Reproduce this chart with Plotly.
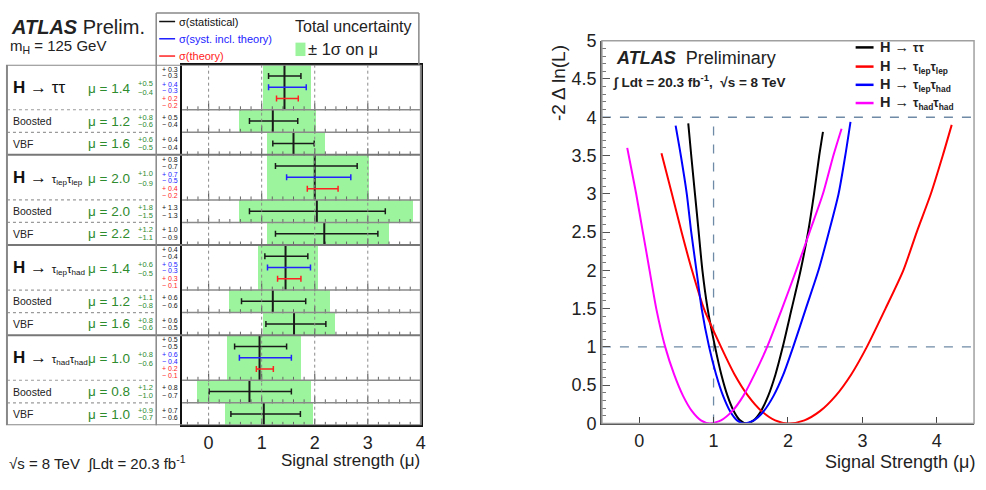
import plotly.graph_objects as go

W, H = 986, 490
FONT = "Liberation Sans, Arial, sans-serif"

# ======================= LEFT PANEL DATA =======================
channel_labels = [
    "<b>H</b> → ττ",
    "<b>H</b> → <span style='font-size:11.5px'>τ<sub>lep</sub>τ<sub>lep</sub></span>",
    "<b>H</b> → <span style='font-size:11.5px'>τ<sub>lep</sub>τ<sub>had</sub></span>",
    "<b>H</b> → <span style='font-size:11.5px'>τ<sub>had</sub>τ<sub>had</sub></span>",
]
sub_labels = ["Boosted", "VBF"]

# 12 rows: per channel -> combined, Boosted, VBF
mu_val  = [1.43, 1.21, 1.60, 2.00, 2.04, 2.18, 1.45, 1.21, 1.61, 0.96, 0.77, 1.04]
tot_up  = [0.51, 0.82, 0.59, 1.02, 1.81, 1.23, 0.62, 1.08, 0.78, 0.78, 1.16, 0.92]
tot_dn  = [0.41, 0.63, 0.49, 0.90, 1.46, 1.08, 0.51, 0.83, 0.59, 0.61, 0.98, 0.73]
stat_up = [0.31, 0.47, 0.39, 0.80, 1.29, 1.01, 0.42, 0.62, 0.60, 0.51, 0.79, 0.69]
stat_dn = [0.30, 0.44, 0.39, 0.74, 1.27, 0.92, 0.39, 0.59, 0.53, 0.47, 0.76, 0.62]
# only for the four combined rows
syst_up = [0.41, 0.68, 0.47, 0.60]
syst_dn = [0.30, 0.53, 0.34, 0.38]
theo_up = [0.26, 0.44, 0.29, 0.26]
theo_dn = [0.15, 0.14, 0.15, 0.06]

mu_text      = ["1.4", "1.2", "1.6", "2.0", "2.0", "2.2", "1.4", "1.2", "1.6", "1.0", "0.8", "1.0"]
tot_up_text  = ["+0.5", "+0.8", "+0.6", "+1.0", "+1.8", "+1.2", "+0.6", "+1.1", "+0.8", "+0.8", "+1.2", "+0.9"]
tot_dn_text  = ["-0.4", "-0.6", "-0.5", "-0.9", "-1.5", "-1.1", "-0.5", "-0.8", "-0.6", "-0.6", "-1.0", "-0.7"]
stat_up_text = ["0.3", "0.5", "0.4", "0.8", "1.3", "1.0", "0.4", "0.6", "0.6", "0.5", "0.8", "0.7"]
stat_dn_text = ["0.3", "0.4", "0.4", "0.7", "1.3", "0.9", "0.4", "0.6", "0.5", "0.5", "0.7", "0.6"]
syst_up_text = ["0.4", "0.7", "0.5", "0.6"]
syst_dn_text = ["0.3", "0.5", "0.3", "0.4"]
theo_up_text = ["0.2", "0.4", "0.3", "0.2"]
theo_dn_text = ["0.2", "0.2", "0.1", "0.1"]

left_ticks = [0, 1, 2, 3, 4]
left_grid = [0, 1, 2, 3]
left_minor = [-0.4, -0.2, 0.2, 0.4, 0.6, 0.8, 1.2, 1.4, 1.6, 1.8, 2.2, 2.4, 2.6, 2.8, 3.2, 3.4, 3.6, 3.8]

# ======================= RIGHT PANEL DATA =======================
curve_labels = [
    "<b>H → </b><span style='font-size:12px'><b>ττ</b></span>",
    "<b>H → </b><span style='font-size:12px'><b>τ<sub>lep</sub>τ<sub>lep</sub></b></span>",
    "<b>H → </b><span style='font-size:12px'><b>τ<sub>lep</sub>τ<sub>had</sub></b></span>",
    "<b>H → </b><span style='font-size:12px'><b>τ<sub>had</sub>τ<sub>had</sub></b></span>",
]
curve_colors = ["#000000", "#ff0000", "#0000ff", "#ff00ff"]

mu_tautau  = [0.66, 0.70, 0.75, 0.80, 0.85, 0.92, 1.02, 1.104, 1.188, 1.272, 1.356, 1.44,
              1.538, 1.636, 1.734, 1.832, 1.93, 2.05, 2.17, 2.27, 2.35, 2.42, 2.47]
nll_tautau = [3.92, 3.50, 3.00, 2.50, 2.00, 1.50, 1.00, 0.64, 0.36, 0.16, 0.04, 0.00,
              0.04, 0.16, 0.36, 0.64, 1.00, 1.50, 2.00, 2.50, 3.00, 3.50, 3.81]

mu_lelep  = [0.30, 0.44, 0.57, 0.71, 0.87, 1.10, 1.282, 1.464, 1.646, 1.828, 2.01,
             2.22, 2.43, 2.64, 2.85, 3.06, 3.31, 3.55, 3.73, 3.92, 4.08, 4.20]
nll_lelep = [3.53, 3.00, 2.50, 2.00, 1.50, 1.00, 0.64, 0.36, 0.16, 0.04, 0.00,
             0.04, 0.16, 0.36, 0.64, 1.00, 1.50, 2.00, 2.50, 3.00, 3.50, 3.90]

mu_lephad  = [0.49, 0.56, 0.64, 0.70, 0.77, 0.84, 0.94, 1.034, 1.128, 1.222, 1.316, 1.41,
              1.542, 1.674, 1.806, 1.938, 2.07, 2.24, 2.41, 2.55, 2.68, 2.77, 2.84]
nll_lephad = [3.89, 3.50, 3.00, 2.50, 2.00, 1.50, 1.00, 0.64, 0.36, 0.16, 0.04, 0.00,
              0.04, 0.16, 0.36, 0.64, 1.00, 1.50, 2.00, 2.50, 3.00, 3.50, 3.94]

mu_hadhad  = [-0.16, -0.10, -0.04, 0.05, 0.14, 0.23, 0.35, 0.47, 0.59, 0.71, 0.83, 0.95,
              1.10, 1.25, 1.40, 1.55, 1.72, 1.92, 2.11, 2.29, 2.47, 2.61, 2.72]
nll_hadhad = [3.60, 3.30, 3.00, 2.50, 2.00, 1.50, 1.00, 0.64, 0.36, 0.16, 0.04, 0.00,
              0.04, 0.16, 0.36, 0.64, 1.00, 1.50, 2.00, 2.50, 3.00, 3.50, 3.85]

curves_mu = [mu_tautau, mu_lelep, mu_lephad, mu_hadhad]
curves_nll = [nll_tautau, nll_lelep, nll_lephad, nll_hadhad]

ref_levels = [1, 4]
sm_mu = 1
right_yticks = [0, 0.5, 1, 1.5, 2, 2.5, 3, 3.5, 4, 4.5, 5]
right_xticks = [0, 1, 2, 3, 4]


# ======================= helpers =======================
def px(x):
    return x / W


def py(y):
    return 1 - y / H


GREEN_TXT = "#2e8b2e"
TICK_COL = "#666666"

# row geometry (in left-panel y units, 16 units total)
row_top, row_h = [], []
for i in range(12):
    g, k = divmod(i, 3)
    row_top.append(4 * g + (0 if k == 0 else k + 1))
    row_h.append(2 if k == 0 else 1)
row_mid = [t + h / 2 for t, h in zip(row_top, row_h)]

fig = go.Figure()

# total-uncertainty boxes
fig.add_trace(go.Bar(
    orientation="h", y=row_mid,
    x=[u + d for u, d in zip(tot_up, tot_dn)],
    base=[m - d for m, d in zip(mu_val, tot_dn)],
    width=row_h, marker=dict(color="#9cf59c", line=dict(width=0)),
    xaxis="x", yaxis="y", hoverinfo="skip",
))

# small axis ticks at the bottom of every row (ROOT style)
tkx, tky, tkx2, tky2 = [], [], [], []
for t, h in zip(row_top, row_h):
    for v in left_minor:
        tkx.append(v)
        tky.append(t + h - 0.06)
    for v in left_grid:
        tkx2.append(v)
        tky2.append(t + h - 0.12)
fig.add_trace(go.Scatter(x=tkx, y=tky, mode="markers",
                         marker=dict(symbol="line-ns-open", size=3, color=TICK_COL,
                                     line=dict(color=TICK_COL, width=1)),
                         xaxis="x", yaxis="y", hoverinfo="skip"))
fig.add_trace(go.Scatter(x=tkx2, y=tky2, mode="markers",
                         marker=dict(symbol="line-ns-open", size=5.5, color=TICK_COL,
                                     line=dict(color=TICK_COL, width=1.2)),
                         xaxis="x", yaxis="y", hoverinfo="skip"))

# central value lines
cx, cy = [], []
for m, t, h in zip(mu_val, row_top, row_h):
    cx += [m, m, None]
    cy += [t, t + h, None]
fig.add_trace(go.Scatter(x=cx, y=cy, mode="lines", line=dict(color="#1a1a1a", width=2),
                         xaxis="x", yaxis="y", hoverinfo="skip"))

# stat error bars
stat_y = [t + 0.5 for t in row_top]
fig.add_trace(go.Scatter(
    x=mu_val, y=stat_y, mode="markers", marker=dict(size=1, opacity=0),
    error_x=dict(type="data", symmetric=False, array=stat_up, arrayminus=stat_dn,
                 color="#1a1a1a", thickness=1.5, width=3),
    xaxis="x", yaxis="y", hoverinfo="skip"))

main_idx = [0, 3, 6, 9]
fig.add_trace(go.Scatter(
    x=[mu_val[i] for i in main_idx], y=[row_top[i] + 1.0 for i in main_idx],
    mode="markers", marker=dict(size=1, opacity=0),
    error_x=dict(type="data", symmetric=False, array=syst_up, arrayminus=syst_dn,
                 color="#2222ff", thickness=1.5, width=3),
    xaxis="x", yaxis="y", hoverinfo="skip"))
fig.add_trace(go.Scatter(
    x=[mu_val[i] for i in main_idx], y=[row_top[i] + 1.5 for i in main_idx],
    mode="markers", marker=dict(size=1, opacity=0),
    error_x=dict(type="data", symmetric=False, array=theo_up, arrayminus=theo_dn,
                 color="#ff2222", thickness=1.5, width=3),
    xaxis="x", yaxis="y", hoverinfo="skip"))

# ======================= RIGHT PANEL TRACES =======================
for mus, nlls, col in zip(curves_mu, curves_nll, curve_colors):
    fig.add_trace(go.Scatter(x=mus, y=nlls, mode="lines",
                             line=dict(color=col, width=2, shape="spline", smoothing=0.7),
                             xaxis="x2", yaxis="y2", hoverinfo="skip"))

shapes = []
ann = []

# ---------- left panel decorations ----------
for v in left_grid:
    shapes.append(dict(type="line", xref="x", yref="y", x0=v, x1=v, y0=0, y1=16,
                       line=dict(color="#8a8a8a", width=1, dash="dot"), layer="above"))
for i in range(1, 12):
    yv = row_top[i]
    if i % 3 == 0:
        shapes.append(dict(type="line", xref="paper", yref="y", x0=px(7), x1=px(423), y0=yv, y1=yv,
                           line=dict(color="#777777", width=2), layer="above"))
    else:
        shapes.append(dict(type="line", xref="paper", yref="y", x0=px(7), x1=px(157), y0=yv, y1=yv,
                           line=dict(color="#9a9a9a", width=1.2, dash="dot"), layer="above"))
        shapes.append(dict(type="line", xref="x", yref="y", x0=-0.5, x1=4.0, y0=yv, y1=yv,
                           line=dict(color="#8a8a8a", width=1.5), layer="above"))
shapes.append(dict(type="rect", xref="paper", yref="y", x0=px(7), x1=px(423), y0=0, y1=16,
                   line=dict(color="#888888", width=2), layer="above"))
shapes.append(dict(type="line", xref="paper", yref="paper", x0=px(157), x1=px(157), y0=py(3), y1=py(433),
                   line=dict(color="#888888", width=1.5)))
shapes.append(dict(type="line", xref="paper", yref="paper", x0=px(157), x1=px(421), y0=py(3), y1=py(3),
                   line=dict(color="#888888", width=1.5)))
shapes.append(dict(type="line", xref="paper", yref="paper", x0=px(421), x1=px(421), y0=py(3), y1=py(57),
                   line=dict(color="#888888", width=1.5)))
leg_cols = ["#111111", "#2222ff", "#ff2222"]
leg_txt = ["σ(statistical)", "σ(syst. incl. theory)", "σ(theory)"]
leg_y = [12, 30, 48]
for c, t, yy in zip(leg_cols, leg_txt, leg_y):
    shapes.append(dict(type="line", xref="paper", yref="paper", x0=px(160), x1=px(176), y0=py(yy), y1=py(yy),
                       line=dict(color=c, width=1.5)))
    ann.append(dict(x=px(178), y=py(yy), xref="paper", yref="paper", text=t, showarrow=False,
                    xanchor="left", yanchor="middle", font=dict(size=11, color=c, family=FONT)))
shapes.append(dict(type="rect", xref="paper", yref="paper", x0=px(297), x1=px(307), y0=py(48), y1=py(34),
                   fillcolor="#9cf59c", line=dict(width=0)))
ann.append(dict(x=px(294), y=py(17), xref="paper", yref="paper", text="Total uncertainty", showarrow=False,
                xanchor="left", yanchor="middle", font=dict(size=16, color="#222", family=FONT)))
ann.append(dict(x=px(308), y=py(41), xref="paper", yref="paper", text="± 1σ on μ", showarrow=False,
                xanchor="left", yanchor="middle", font=dict(size=16.5, color="#222", family=FONT)))

ann.append(dict(x=px(9), y=py(18), xref="paper", yref="paper",
                text="<b><i>ATLAS</i></b> Prelim.", showarrow=False,
                xanchor="left", yanchor="middle", font=dict(size=20, color="#222", family=FONT)))
ann.append(dict(x=px(8), y=py(38), xref="paper", yref="paper",
                text="m<sub>H</sub> = 125 GeV", showarrow=False,
                xanchor="left", yanchor="middle", font=dict(size=15, color="#222", family=FONT)))
ann.append(dict(x=px(7), y=py(472), xref="paper", yref="paper",
                text="√s = 8 TeV  ∫Ldt = 20.3 fb<sup>-1</sup>", showarrow=False,
                xanchor="left", yanchor="middle", font=dict(size=15, color="#222", family=FONT)))
ann.append(dict(x=px(424), y=py(470), xref="paper", yref="paper",
                text="Signal strength (μ)", showarrow=False,
                xanchor="right", yanchor="middle", font=dict(size=17, color="#222", family=FONT)))

for i in range(12):
    g, k = divmod(i, 3)
    t, h = row_top[i], row_h[i]
    if k == 0:
        ann.append(dict(x=px(11), y=t + 1.0, xref="paper", yref="y", text=channel_labels[g], showarrow=False,
                        xanchor="left", yanchor="middle", font=dict(size=17, color="#111", family=FONT)))
    else:
        ann.append(dict(x=px(11), y=t + 0.5, xref="paper", yref="y", text=sub_labels[k - 1], showarrow=False,
                        xanchor="left", yanchor="middle", font=dict(size=10.5, color="#222", family=FONT)))
    cmid = t + (1.05 if k == 0 else 0.5)
    ann.append(dict(x=px(133), y=cmid, xref="paper", yref="y", text="μ = " + mu_text[i], showarrow=False,
                    xanchor="right", yanchor="middle", font=dict(size=13.5, color=GREEN_TXT, family=FONT)))
    dsup = 0.2 if k == 0 else 0.17
    ann.append(dict(x=px(137), y=cmid - dsup, xref="paper", yref="y", text=tot_up_text[i], showarrow=False,
                    xanchor="left", yanchor="middle", font=dict(size=7.5, color=GREEN_TXT, family=FONT)))
    ann.append(dict(x=px(137), y=cmid + dsup, xref="paper", yref="y", text=tot_dn_text[i].replace("-", "−"),
                    showarrow=False, xanchor="left", yanchor="middle",
                    font=dict(size=7.5, color=GREEN_TXT, family=FONT)))
    if k == 0:
        gi = main_idx.index(i)
        items = [("+ " + stat_up_text[i], "#111"), ("− " + stat_dn_text[i], "#111"),
                 ("+ " + syst_up_text[gi], "#2222ff"), ("− " + syst_dn_text[gi], "#2222ff"),
                 ("+ " + theo_up_text[gi], "#ff2222"), ("− " + theo_dn_text[gi], "#ff2222")]
        offs = [0.2, 0.5, 0.86, 1.15, 1.5, 1.8]
    else:
        items = [("+ " + stat_up_text[i], "#111"), ("− " + stat_dn_text[i], "#111")]
        offs = [0.33, 0.67]
    for (tx, c), o in zip(items, offs):
        ann.append(dict(x=px(161), y=t + o, xref="paper", yref="y", text=tx, showarrow=False,
                        xanchor="left", yanchor="middle", font=dict(size=7, color=c, family=FONT)))

# ---------- right panel decorations ----------
for lv in ref_levels:
    shapes.append(dict(type="line", xref="x2", yref="y2", x0=-0.5, x1=4.5, y0=lv, y1=lv,
                       line=dict(color="#6f8aa6", width=1.3, dash="dash"), layer="below"))
shapes.append(dict(type="line", xref="x2", yref="y2", x0=sm_mu, x1=sm_mu, y0=0, y1=max(ref_levels),
                   line=dict(color="#6f8aa6", width=1.3, dash="dash"), layer="below"))
shapes.append(dict(type="rect", xref="x2 domain", yref="y2 domain", x0=0, x1=1, y0=0, y1=1,
                   line=dict(color="#a0a0a0", width=1.5), layer="above"))

ann.append(dict(x=px(617), y=py(50), xref="paper", yref="paper",
                text="<b><i>ATLAS</i></b>  Preliminary", showarrow=False,
                xanchor="left", yanchor="middle", font=dict(size=18, color="#222", family=FONT)))
ann.append(dict(x=px(614), y=py(74), xref="paper", yref="paper",
                text="<b>∫ Ldt = 20.3 fb<sup>-1</sup>,  √s = 8 TeV</b>", showarrow=False,
                xanchor="left", yanchor="middle", font=dict(size=13.5, color="#222", family=FONT)))
leg2_y = [39, 59, 78, 97]
for lab, col, yy in zip(curve_labels, curve_colors, leg2_y):
    shapes.append(dict(type="line", xref="paper", yref="paper", x0=px(860), x1=px(878), y0=py(yy), y1=py(yy),
                       line=dict(color=col, width=2.5)))
    ann.append(dict(x=px(882), y=py(yy), xref="paper", yref="paper", text=lab, showarrow=False,
                    xanchor="left", yanchor="middle", font=dict(size=14.5, color="#222", family=FONT)))
ann.append(dict(x=px(562), y=py(76), xref="paper", yref="paper", text="-2 Δ ln(L)", textangle=-90,
                showarrow=False, xanchor="center", yanchor="middle",
                font=dict(size=19, color="#222", family=FONT)))
ann.append(dict(x=px(982), y=py(471), xref="paper", yref="paper", text="Signal Strength (μ)",
                showarrow=False, xanchor="right", yanchor="middle",
                font=dict(size=18, color="#222", family=FONT)))

fig.update_layout(
    width=W, height=H, margin=dict(l=0, r=0, t=0, b=0),
    paper_bgcolor="white", plot_bgcolor="white", showlegend=False,
    shapes=shapes, annotations=ann, bargap=0,
    xaxis=dict(domain=[px(183), px(423)], range=[-0.5, 4.0], tickvals=left_ticks,
               ticks="", showgrid=False, zeroline=False,
               showline=True, mirror=True, linecolor="#111", linewidth=2,
               tickfont=dict(size=18, color="#222", family=FONT), anchor="y"),
    yaxis=dict(domain=[py(433), py(57)], range=[16, 0], showticklabels=False, ticks="",
               showgrid=False, zeroline=False, showline=True, mirror=True,
               linecolor="#111", linewidth=2, anchor="x"),
    xaxis2=dict(domain=[px(605), px(979)], range=[-0.5, 4.5], tickvals=right_xticks,
                ticks="inside", ticklen=6, tickcolor="#444", showgrid=False, zeroline=False,
                showline=True, linecolor="#444", linewidth=2, anchor="y2",
                tickfont=dict(size=18, color="#222", family=FONT)),
    yaxis2=dict(domain=[py(431), py(32)], range=[0, 5], tickvals=right_yticks,
                ticktext=[f"{v:g}" for v in right_yticks],
                ticks="inside", ticklen=8, tickcolor="#555", showgrid=False, zeroline=False,
                showline=True, linecolor="#555", linewidth=1.5, anchor="x2",
                minor=dict(ticks="inside", ticklen=4, dtick=0.1, tickcolor="#777"),
                tickfont=dict(size=18, color="#222", family=FONT)),
)

fig.write_html(
    "out.html",
    config={"displayModeBar": False},
    post_script=(
        "document.documentElement.style.margin='0';"
        "document.body.style.margin='0';document.body.style.padding='0';"
        "document.documentElement.style.overflow='hidden';document.body.style.overflow='hidden';"
        "var d=document.getElementById('{plot_id}');"
        "d.style.position='fixed';d.style.left='0px';d.style.top='0px';"
    ),
)
